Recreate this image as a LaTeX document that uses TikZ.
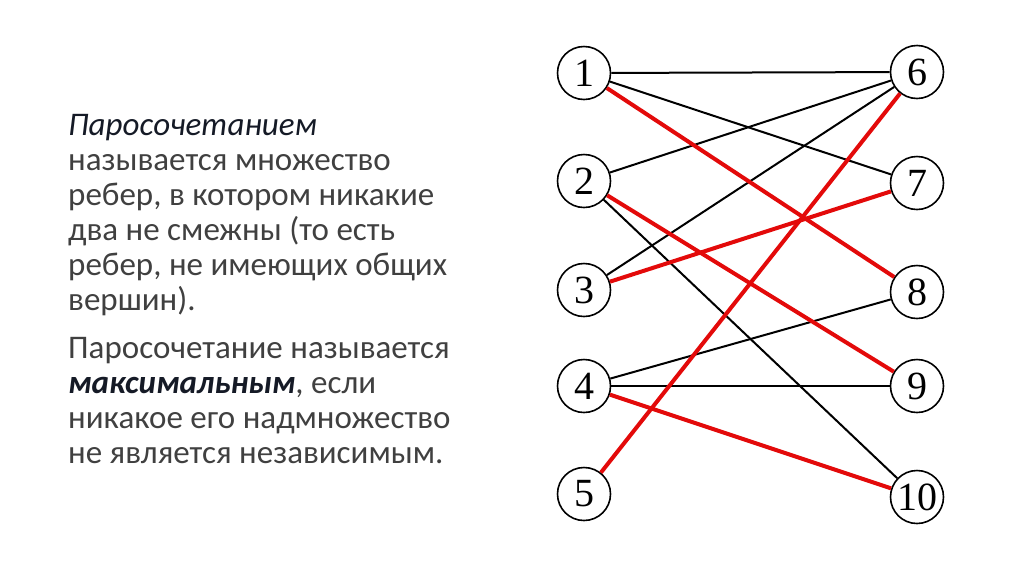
\documentclass[tikz,border=0pt]{standalone}
\usepackage{fontspec}
\setmainfont{Carlito}
\newfontfamily\numfont{Liberation Serif}
\usetikzlibrary{positioning}
\definecolor{bodygray}{HTML}{404040}
\definecolor{termnavy}{HTML}{151A26}
\definecolor{matchred}{HTML}{E30A0A}

\begin{document}
\begin{tikzpicture}[
    x=1pt, y=-1pt,
    vert/.style={circle, draw, line width=1.6pt, minimum size=53pt, inner sep=0pt, font=\numfont\fontsize{40}{40}\selectfont},
    edge/.style={line width=2pt},
    match/.style={line width=4pt, draw=matchred},
]
\useasboundingbox (0,0) rectangle (1024,574);

% text block
\node[anchor=north west, align=left, text=bodygray, inner sep=0pt,
      font=\fontsize{33}{35}\selectfont] (txt) at (68,114)
  {{\color{termnavy}\itshape Паросочетанием}\\
   называется множество\\
   ребер, в котором никакие\\
   два не смежны (то есть\\
   ребер, не имеющих общих\\
   вершин).\\[13pt]
   Паросочетание называется\\
   {\color{termnavy}\bfseries\itshape максимальным}, если\\
   никакое его надмножество\\
   не является независимым.};

% left part
\node[vert] (v1) at (584,73) {1};
\node[vert] (v2) at (584,181) {2};
\node[vert] (v3) at (584,290) {3};
\node[vert] (v4) at (584,386) {4};
\node[vert] (v5) at (584,494) {5};
% right part
\node[vert] (v6) at (917,72) {6};
\node[vert] (v7) at (917,183) {7};
\node[vert] (v8) at (917,292) {8};
\node[vert] (v9) at (917,386) {9};
\node[vert] (v10) at (917,497) {10};

% edges
\draw[edge] (v1) -- (v6);
\draw[edge] (v1) -- (v7);
\draw[edge] (v2) -- (v6);
\draw[edge] (v3) -- (v6);
\draw[edge] (v2) -- (v10);
\draw[edge] (v4) -- (v8);
\draw[edge] (v4) -- (v9);

% matching
\draw[match] (v1) -- (v8);
\draw[match] (v2) -- (v9);
\draw[match] (v3) -- (v7);
\draw[match] (v5) -- (v6);
\draw[match] (v4) -- (v10);
\end{tikzpicture}
\end{document}
